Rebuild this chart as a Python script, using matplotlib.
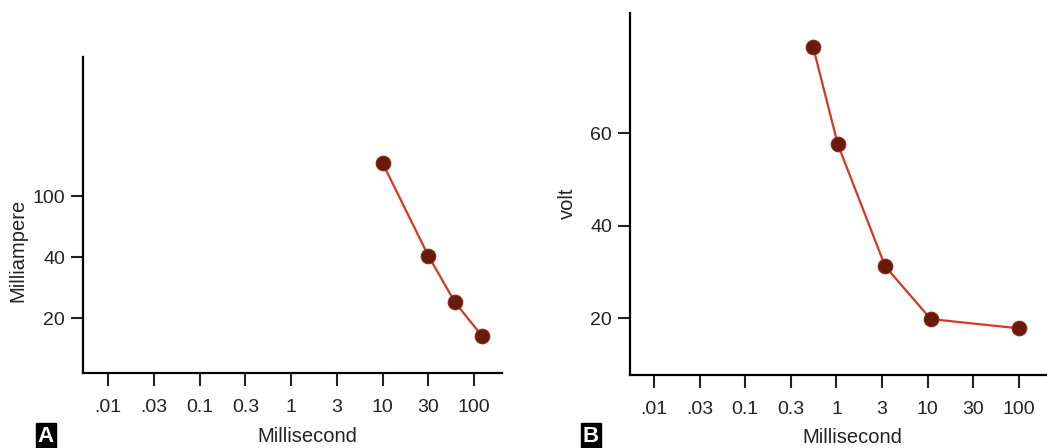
import numpy as np
import matplotlib
matplotlib.use('Agg')
import matplotlib.pyplot as plt

plt.rcParams['font.family'] = ['Liberation Sans', 'DejaVu Sans']

#-------------------------------------------------------------------------------
#DATA (x as position along the evenly spaced time ticks)

xticklabels = ['.01', '.03', '0.1', '0.3', '1', '3', '10', '30', '100']

#panel A: y axis is also evenly spaced labels
a_yticklabels = ['20', '40', '100']
a_x = [6.0, 7.0, 7.58, 8.18]
a_y = [2.54, 1.02, 0.26, -0.30]

#panel B: linear volt axis
b_yticks = [20, 40, 60]
b_x = [3.49, 4.03, 5.07, 6.07, 8.0]
b_y = [78.6, 57.6, 31.2, 19.8, 17.8]

#-------------------------------------------------------------------------------
#STYLE

linecol = '#d43a22'
dotcol = '#6a1a0c'
fs_tick = 14
fs_lab = 14.5

def style_axes(ax):
    for s in ['top', 'right']:
        ax.spines[s].set_visible(False)
    for s in ['left', 'bottom']:
        ax.spines[s].set_linewidth(1.6)
    ax.tick_params(length=9, width=1.5, labelsize=fs_tick, colors='#222222')
    ax.tick_params(axis='x', pad=10)
    ax.tick_params(axis='y', pad=4)
    ax.set_xticks(range(len(xticklabels)))
    ax.set_xticklabels(xticklabels)

def panel_tag(fig, x, y, s):
    fig.text(x, y, s, ha='center', va='center', color='white', fontsize=16,
             fontweight='bold',
             bbox=dict(boxstyle='square,pad=0.1', fc='black', ec='black'))

#-------------------------------------------------------------------------------
#MAIN

fig = plt.figure(figsize=(10.47, 4.48), dpi=100)

#A
ax = fig.add_axes([0.0793, 0.1674, 0.4002, 0.7054])
ax.plot(a_x, a_y, '-', color=linecol, lw=1.6, zorder=2)
ax.plot(a_x, a_y, 'o', color=dotcol, ms=10.5, mec='#8a2a14', mew=0.8, zorder=3)
style_axes(ax)
ax.set_xlim(-0.55, 8.61)
ax.set_ylim(-0.9, 4.28)
ax.set_yticks(range(len(a_yticklabels)))
ax.set_yticklabels(a_yticklabels)
ax.set_ylabel('Milliampere', fontsize=fs_lab, color='#222222')
ax.yaxis.set_label_coords(-0.134, 0.389)
ax.set_xlabel('Millisecond', fontsize=fs_lab, color='#222222')
ax.xaxis.set_label_coords(0.535, -0.17)

#B
ax = fig.add_axes([0.6017, 0.1629, 0.3983, 0.8081])
ax.plot(b_x, b_y, '-', color=linecol, lw=1.6, zorder=2)
ax.plot(b_x, b_y, 'o', color=dotcol, ms=10.5, mec='#8a2a14', mew=0.8, zorder=3)
style_axes(ax)
ax.set_xlim(-0.53, 8.62)
ax.set_ylim(7.7, 86)
ax.set_yticks(b_yticks)
ax.set_ylabel('volt', fontsize=fs_lab, color='#222222')
ax.yaxis.set_label_coords(-0.127, 0.475)
ax.set_xlabel('Millisecond', fontsize=fs_lab, color='#222222')
ax.xaxis.set_label_coords(0.534, -0.147)

panel_tag(fig, 46/1047, 1 - 436/448, 'A')
panel_tag(fig, 591/1047, 1 - 436/448, 'B')

fig.savefig('out.png', dpi=100, facecolor='white')
